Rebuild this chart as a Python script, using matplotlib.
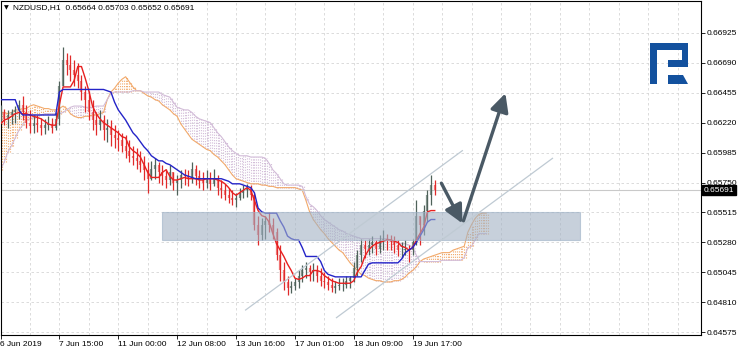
import matplotlib
matplotlib.use('Agg')
import matplotlib.pyplot as plt
import numpy as np
from matplotlib.patches import Polygon, Rectangle

# ---------------- data (2-hour sampling of the H1 chart) ----------------
date_labels = ["6 Jun 2019", "7 Jun 15:00", "11 Jun 00:00", "12 Jun 08:00",
               "13 Jun 16:00", "17 Jun 01:00", "18 Jun 09:00", "19 Jun 17:00"]
label_index = [0, 16, 32, 48, 64, 80, 96, 112]

price_ticks = [0.64575, 0.64810, 0.65045, 0.65280, 0.65515, 0.65750,
               0.65985, 0.66220, 0.66455, 0.66690, 0.66925]

first_open = 0.6627
highs = [0.6636, 0.6633, 0.6632, 0.6633, 0.6635, 0.6640, 0.6643, 0.6636, 0.6632, 0.6628,
         0.6628, 0.6626, 0.6625, 0.6627, 0.6626, 0.6630, 0.6655, 0.6681, 0.6677, 0.6675,
         0.6671, 0.6669, 0.6659, 0.6651, 0.6647, 0.6640, 0.6630, 0.6632, 0.6628, 0.6625,
         0.6624, 0.6620, 0.6616, 0.6614, 0.6612, 0.6608, 0.6604, 0.6602, 0.6600, 0.6596,
         0.6591, 0.6592, 0.6594, 0.6591, 0.6589, 0.6586, 0.6589, 0.6583, 0.6581, 0.6585,
         0.6586, 0.6585, 0.6591, 0.6589, 0.6585, 0.6583, 0.6585, 0.6583, 0.6586, 0.6581,
         0.6577, 0.6574, 0.6571, 0.6569, 0.6567, 0.6571, 0.6573, 0.6574, 0.6573, 0.6567,
         0.6549, 0.6547, 0.6549, 0.6552, 0.6547, 0.6539, 0.6526, 0.6513, 0.6502, 0.6498,
         0.6500, 0.6506, 0.6510, 0.6513, 0.6510, 0.6512, 0.6510, 0.6508, 0.6505, 0.6502,
         0.6500, 0.6498, 0.6500, 0.6500, 0.6502, 0.6502, 0.6513, 0.6522, 0.6531, 0.6530,
         0.6531, 0.6533, 0.6530, 0.6534, 0.6538, 0.6535, 0.6534, 0.6533, 0.6530, 0.6528,
         0.6530, 0.6526, 0.6531, 0.6561, 0.6549, 0.6557, 0.6569, 0.6581, 0.6577]
lows = [0.6622, 0.6620, 0.6618, 0.6621, 0.6622, 0.6625, 0.6624, 0.6618, 0.6614, 0.6614,
        0.6615, 0.6612, 0.6613, 0.6616, 0.6614, 0.6616, 0.6620, 0.6651, 0.6659, 0.6655,
        0.6651, 0.6649, 0.6640, 0.6630, 0.6624, 0.6616, 0.6612, 0.6616, 0.6608, 0.6607,
        0.6604, 0.6602, 0.6600, 0.6599, 0.6594, 0.6591, 0.6589, 0.6586, 0.6583, 0.6577,
        0.6567, 0.6577, 0.6578, 0.6575, 0.6573, 0.6571, 0.6573, 0.6569, 0.6565, 0.6571,
        0.6573, 0.6572, 0.6575, 0.6573, 0.6571, 0.6569, 0.6571, 0.6569, 0.6572, 0.6565,
        0.6563, 0.6561, 0.6559, 0.6557, 0.6556, 0.6561, 0.6563, 0.6564, 0.6561, 0.6538,
        0.6526, 0.6530, 0.6531, 0.6536, 0.6531, 0.6514, 0.6498, 0.6491, 0.6487, 0.6488,
        0.6491, 0.6492, 0.6497, 0.6500, 0.6498, 0.6498, 0.6497, 0.6494, 0.6492, 0.6491,
        0.6489, 0.6488, 0.6491, 0.6490, 0.6492, 0.6492, 0.6497, 0.6502, 0.6513, 0.6516,
        0.6518, 0.6520, 0.6518, 0.6520, 0.6522, 0.6522, 0.6522, 0.6520, 0.6517, 0.6516,
        0.6518, 0.6513, 0.6518, 0.6526, 0.6526, 0.6534, 0.6544, 0.6557, 0.6565]
closes = [0.6630, 0.6625, 0.6628, 0.6630, 0.6632, 0.6636, 0.6630, 0.6622, 0.6619, 0.6622,
          0.6620, 0.6618, 0.6620, 0.6621, 0.6618, 0.6625, 0.6651, 0.6671, 0.6667, 0.6663,
          0.6659, 0.6655, 0.6646, 0.6640, 0.6630, 0.6624, 0.6620, 0.6624, 0.6616, 0.6618,
          0.6612, 0.6610, 0.6608, 0.6604, 0.6600, 0.6596, 0.6594, 0.6592, 0.6589, 0.6585,
          0.6578, 0.6586, 0.6589, 0.6583, 0.6580, 0.6577, 0.6583, 0.6575, 0.6577, 0.6581,
          0.6580, 0.6578, 0.6586, 0.6580, 0.6577, 0.6575, 0.6578, 0.6574, 0.6578, 0.6571,
          0.6569, 0.6565, 0.6563, 0.6561, 0.6563, 0.6567, 0.6569, 0.6571, 0.6565, 0.6542,
          0.6534, 0.6542, 0.6545, 0.6542, 0.6536, 0.6518, 0.6506, 0.6497, 0.6492, 0.6494,
          0.6497, 0.6502, 0.6506, 0.6508, 0.6505, 0.6506, 0.6502, 0.6498, 0.6497, 0.6495,
          0.6492, 0.6494, 0.6495, 0.6495, 0.6498, 0.6500, 0.6508, 0.6518, 0.6526, 0.6523,
          0.6526, 0.6528, 0.6523, 0.6530, 0.6531, 0.6530, 0.6528, 0.6526, 0.6522, 0.6522,
          0.6523, 0.6522, 0.6528, 0.6549, 0.6542, 0.6553, 0.6565, 0.6573, 0.65691]

tenkan = [0.6621, 0.6624, 0.6625, 0.6627, 0.6629, 0.6630, 0.6629, 0.6629, 0.6628, 0.6627,
          0.6626, 0.6625, 0.6623, 0.6621, 0.6620, 0.6620, 0.6636, 0.6650, 0.6650, 0.6650,
          0.6655, 0.6666, 0.6666, 0.6657, 0.6647, 0.6635, 0.6629, 0.6625, 0.6622, 0.6620,
          0.6618, 0.6616, 0.6614, 0.6611, 0.6610, 0.6603, 0.6600, 0.6598, 0.6595, 0.6589,
          0.6583, 0.6579, 0.6579, 0.6579, 0.6583, 0.6585, 0.6580, 0.6577, 0.6577, 0.6578,
          0.6579, 0.6578, 0.6578, 0.6578, 0.6577, 0.6577, 0.6578, 0.6578, 0.6578, 0.6577,
          0.6576, 0.6574, 0.6571, 0.6567, 0.6565, 0.6567, 0.6569, 0.6571, 0.6569, 0.6561,
          0.6553, 0.6549, 0.6548, 0.6544, 0.6535, 0.6527, 0.6522, 0.6517, 0.6511, 0.6506,
          0.6500, 0.6499, 0.6500, 0.6502, 0.6502, 0.6506, 0.6506, 0.6505, 0.6502, 0.6500,
          0.6498, 0.6497, 0.6496, 0.6496, 0.6496, 0.6496, 0.6498, 0.6505, 0.6509, 0.6517,
          0.6522, 0.6525, 0.6527, 0.6528, 0.6529, 0.6530, 0.6530, 0.6529, 0.6528, 0.6525,
          0.6524, 0.6522, 0.6524, 0.6530, 0.6535, 0.6540, 0.6552, 0.6553, 0.6553]

kijun = [0.6640, 0.6640, 0.6640, 0.6640, 0.6640, 0.6632, 0.6628, 0.6628, 0.6628, 0.6628,
         0.6628, 0.6628, 0.6628, 0.6628, 0.6628, 0.6628, 0.6646, 0.6648, 0.6648, 0.6648,
         0.6648, 0.6648, 0.6648, 0.6648, 0.6648, 0.6648, 0.6648, 0.6648, 0.6648, 0.6647,
         0.6646, 0.6638, 0.6632, 0.6628, 0.6624, 0.6619, 0.6614, 0.6611, 0.6607, 0.6603,
         0.6600, 0.6596, 0.6594, 0.6592, 0.6592, 0.6590, 0.6589, 0.6587, 0.6585, 0.6583,
         0.6581, 0.6580, 0.6579, 0.6578, 0.6578, 0.6578, 0.6578, 0.6578, 0.6578, 0.6578,
         0.6578, 0.6577, 0.6576, 0.6574, 0.6574, 0.6574, 0.6573, 0.6572, 0.6571, 0.6567,
         0.6555, 0.6552, 0.6551, 0.6551, 0.6551, 0.6551, 0.6545, 0.6540, 0.6533, 0.6531,
         0.6530, 0.6530, 0.6524, 0.6517, 0.6517, 0.6517, 0.6517, 0.6513, 0.6506, 0.6503,
         0.6502, 0.6501, 0.6501, 0.6501, 0.6501, 0.6501, 0.6501, 0.6501, 0.6501, 0.6506,
         0.6511, 0.6512, 0.6512, 0.6512, 0.6512, 0.6512, 0.6512, 0.6512, 0.6512, 0.6515,
         0.6520, 0.6522, 0.6524, 0.6528, 0.6533, 0.6538, 0.6544, 0.6546, 0.6546]

span_a = [0.6630, 0.6630, 0.6629, 0.6630, 0.6632, 0.6632, 0.6633, 0.6633, 0.6635, 0.6636,
          0.6635, 0.6634, 0.6633, 0.6633, 0.6632, 0.6632, 0.6633, 0.6635, 0.6633, 0.6629,
          0.6627, 0.6626, 0.6626, 0.6627, 0.6627, 0.6628, 0.6628, 0.6629, 0.6630, 0.6640,
          0.6646, 0.6649, 0.6653, 0.6656, 0.6658, 0.6654, 0.6650, 0.6647, 0.6647, 0.6645,
          0.6643, 0.6642, 0.6640, 0.6639, 0.6636, 0.6634, 0.6632, 0.6629, 0.6627, 0.6621,
          0.6617, 0.6613, 0.6609, 0.6607, 0.6605, 0.6603, 0.6601, 0.6600, 0.6597, 0.6595,
          0.6592, 0.6589, 0.6585, 0.6581, 0.6578, 0.6577, 0.6576, 0.6575, 0.6574, 0.6574,
          0.6574, 0.6573, 0.6573, 0.6572, 0.6572, 0.6571, 0.6571, 0.6571, 0.6571, 0.6571,
          0.6571, 0.6570, 0.6569, 0.6561, 0.6552, 0.6546, 0.6542, 0.6538, 0.6535, 0.6531,
          0.6528, 0.6525, 0.6522, 0.6520, 0.6516, 0.6512, 0.6509, 0.6506, 0.6503, 0.6502,
          0.6500, 0.6499, 0.6498, 0.6498, 0.6497, 0.6497, 0.6497, 0.6498, 0.6498, 0.6499,
          0.6501, 0.6504, 0.6506, 0.6509, 0.6513, 0.6515, 0.6516, 0.6517, 0.6518, 0.6519,
          0.6520, 0.6520, 0.6520, 0.6522, 0.6523, 0.6524, 0.6525, 0.6536, 0.6542, 0.6547,
          0.6550, 0.6551, 0.6551]
span_b = [0.6585, 0.6591, 0.6599, 0.6604, 0.6610, 0.6616, 0.6620, 0.6624, 0.6625, 0.6626,
          0.6627, 0.6628, 0.6629, 0.6629, 0.6629, 0.6629, 0.6629, 0.6630, 0.6632, 0.6634,
          0.6635, 0.6635, 0.6635, 0.6634, 0.6634, 0.6634, 0.6635, 0.6635, 0.6635, 0.6640,
          0.6645, 0.6646, 0.6646, 0.6646, 0.6646, 0.6646, 0.6647, 0.6647, 0.6647, 0.6646,
          0.6646, 0.6646, 0.6646, 0.6646, 0.6644, 0.6643, 0.6642, 0.6638, 0.6634, 0.6633,
          0.6632, 0.6632, 0.6630, 0.6627, 0.6625, 0.6624, 0.6623, 0.6622, 0.6618, 0.6614,
          0.6611, 0.6607, 0.6603, 0.6600, 0.6598, 0.6596, 0.6596, 0.6596, 0.6595, 0.6595,
          0.6595, 0.6595, 0.6594, 0.6590, 0.6585, 0.6582, 0.6578, 0.6574, 0.6573, 0.6573,
          0.6573, 0.6573, 0.6572, 0.6564, 0.6558, 0.6556, 0.6553, 0.6549, 0.6546, 0.6544,
          0.6542, 0.6540, 0.6538, 0.6537, 0.6535, 0.6534, 0.6533, 0.6532, 0.6531, 0.6531,
          0.6531, 0.6531, 0.6531, 0.6531, 0.6531, 0.6531, 0.6530, 0.6529, 0.6528, 0.6527,
          0.6527, 0.6526, 0.6524, 0.6518, 0.6513, 0.6513, 0.6513, 0.6513, 0.6513, 0.6513,
          0.6514, 0.6514, 0.6514, 0.6514, 0.6514, 0.6514, 0.6516, 0.6524, 0.6525, 0.6530,
          0.6535, 0.6535, 0.6535]

bid_price = 0.65691
title_text = "NZDUSD,H1  0.65664 0.65703 0.65652 0.65691"

# analyst drawings: (bar index, price)
zone_start, zone_end = 44.0, 157.6
zone_low, zone_high = 0.6530, 0.6552
channel_upper = ([66.6, 125.5], [0.6475, 0.6600])
channel_lower = ([91.3, 150.0], [0.6469, 0.6594])
arrow_down = ((119.8, 0.65745), (125.5, 0.6543))
arrow_up = ((125.8, 0.6545), (137.2, 0.6645))

# ---------------- figure ----------------
W, H = 743, 352
FONT = ['Liberation Sans', 'DejaVu Sans']
fig = plt.figure(figsize=(W / 100, H / 100), dpi=100)
fig.patch.set_facecolor('white')
ax = fig.add_axes([0.5 / W, (H - 335) / H, 700 / W, 334.5 / H])
ax.set_facecolor('white')
ax.set_xlim(0, 700 / 3.68)
ax.set_ylim(0.64554, 0.67178)

grid_c = '#d6d6d6'
for k in range(8, 191, 8):
    ax.axvline(k, color=grid_c, lw=0.6, ls=(0, (3, 3)), zorder=0)
for v in price_ticks:
    ax.axhline(v, color=grid_c, lw=0.6, ls=(0, (3, 3)), zorder=0)

# Ichimoku cloud
sa = np.array(span_a)
sb = np.array(span_b)
ci = np.arange(len(sa))
bull = sa >= sb
orange = '#f2a96a'
thistle = '#d2bcd8'
for off in (0.0, 0.5):
    ax.vlines(ci[bull] + off, sb[bull], sa[bull], color=orange, lw=0.8,
              linestyles=(0, (1, 1.4)), zorder=1)
    ax.vlines(ci[~bull] + off, sa[~bull], sb[~bull], color=thistle, lw=0.8,
              linestyles=(0, (1, 1.4)), zorder=1)
ax.plot(ci, sa, color=orange, lw=0.8, zorder=1.5)
ax.plot(ci, sb, color=thistle, lw=0.8, zorder=1.5)

# candles
c = np.array(closes)
hi = np.array(highs)
lo = np.array(lows)
op = np.r_[first_open, c[:-1]]
idx = np.arange(len(c))
up = c >= op
ax.vlines(idx[up], lo[up], hi[up], color='#4f625a', lw=0.9, zorder=3)
ax.vlines(idx[~up], lo[~up], hi[~up], color='#e02a2a', lw=0.9, zorder=3)
ax.vlines(idx[up], np.minimum(op, c)[up], np.maximum(op, c)[up], color='#8a9a93', lw=1.6, zorder=2.9)
ax.vlines(idx[~up], np.minimum(op, c)[~up], np.maximum(op, c)[~up], color='#f27f7f', lw=1.6, zorder=2.9)

# Tenkan / Kijun
ax.plot(idx, tenkan, color='#e82020', lw=1.0, zorder=4)
ax.plot(idx, kijun, color='#2424c8', lw=1.0, zorder=4)

# bid line
ax.axhline(bid_price, color='#c9c9c9', lw=0.8, zorder=2)

# support zone
ax.add_patch(Rectangle((zone_start, zone_low), zone_end - zone_start, zone_high - zone_low,
                       facecolor='#a2b2c4', edgecolor='#9cb0c6', lw=0.8, alpha=0.6, zorder=5))

# channel
ax.plot(*channel_upper, color='#bfcad3', lw=0.9, zorder=6)
ax.plot(*channel_lower, color='#bfcad3', lw=0.9, zorder=6)

# arrows
for (x0, y0), (x1, y1) in (arrow_down, arrow_up):
    ax.annotate('', xy=(x1, y1), xytext=(x0, y0),
                arrowprops=dict(arrowstyle='-|>,head_length=1.0,head_width=0.5',
                                lw=2.4, color='#4a5965', shrinkA=0, shrinkB=0,
                                mutation_scale=11), zorder=7)

# axes styling
for s in ax.spines.values():
    s.set_color('black')
    s.set_linewidth(0.8)
ax.yaxis.tick_right()
ax.set_yticks(price_ticks)
ax.set_yticklabels([f'{v:.5f}' for v in price_ticks], fontsize=6, family=FONT)
ax.set_xticks(label_index)
ax.set_xticklabels(date_labels, fontsize=6, family=FONT, ha='left')
ax.tick_params(axis='both', length=3, width=0.6, color='black', pad=1.5)

# current price box
ax.text(1.0045, bid_price, f'{bid_price:.5f}', transform=ax.get_yaxis_transform(),
        color='white', fontsize=6, family=FONT, va='center', ha='left',
        bbox=dict(facecolor='black', edgecolor='black', pad=1.2), zorder=10, clip_on=False)

# header
fig.text(4 / W, 1 - 8 / H, '\u25bc', fontsize=4.5, family='DejaVu Sans', va='center', ha='left')
fig.text(13 / W, 1 - 8 / H, title_text, fontsize=6, family=FONT, va='center', ha='left')

# logo
def fpts(pts):
    return [(x / W, 1 - y / H) for x, y in pts]

logo_c = '#13519e'
fig.patches.append(Polygon(fpts([(650, 43), (688, 43), (688, 67), (668, 67), (668, 60), (682, 60),
                                  (682, 50), (657, 50), (657, 84), (650, 84)]),
                           closed=True, facecolor=logo_c, edgecolor='none',
                           transform=fig.transFigure, figure=fig))
fig.patches.append(Polygon(fpts([(668, 75), (683, 75), (688, 84), (668, 84)]),
                           closed=True, facecolor=logo_c, edgecolor='none',
                           transform=fig.transFigure, figure=fig))

fig.savefig('out.png', dpi=100)
